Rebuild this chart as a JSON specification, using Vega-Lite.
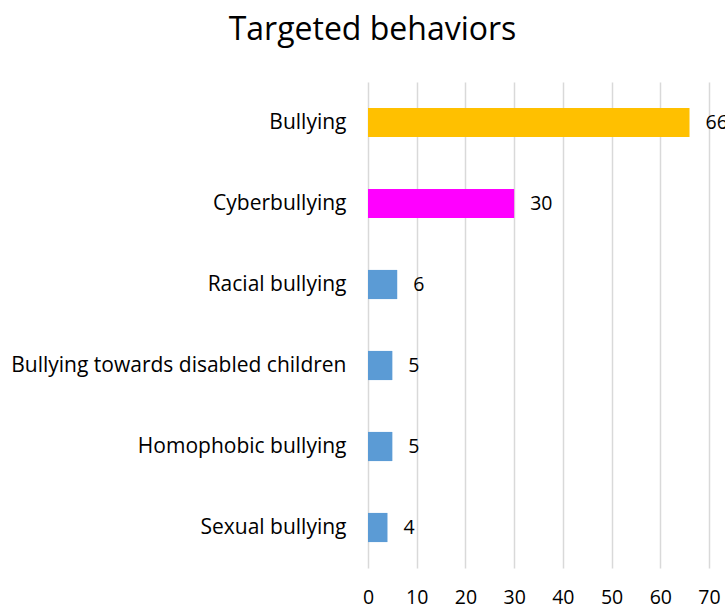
{
  "$schema": "https://vega.github.io/schema/vega-lite/v6.json",
  "autosize": "none",
  "width": 341,
  "height": 486,
  "padding": {"left": 368, "top": 82, "right": 16, "bottom": 41},
  "background": "white",
  "title": {
    "text": "Targeted behaviors",
    "font": "Open Sans",
    "fontSize": 32,
    "fontWeight": "normal",
    "color": "#000000",
    "anchor": "middle",
    "dx": -166,
    "offset": 35
  },
  "config": {"view": {"stroke": null}},
  "data": {
    "values": [
      {"behavior": "Bullying", "value": 66, "group": "a"},
      {"behavior": "Cyberbullying", "value": 30, "group": "b"},
      {"behavior": "Racial bullying", "value": 6, "group": "c"},
      {"behavior": "Bullying towards disabled children", "value": 5, "group": "c"},
      {"behavior": "Homophobic bullying", "value": 5, "group": "c"},
      {"behavior": "Sexual bullying", "value": 4, "group": "c"}
    ]
  },
  "encoding": {
    "y": {
      "field": "behavior",
      "type": "nominal",
      "sort": null,
      "scale": {"paddingInner": 0.64, "paddingOuter": 0.32},
      "axis": {
        "title": null,
        "domain": false,
        "ticks": false,
        "labelFont": "Open Sans",
        "labelFontSize": 21,
        "labelColor": "#000000",
        "labelPadding": 22,
        "labelLimit": 400
      }
    },
    "x": {
      "field": "value",
      "type": "quantitative",
      "scale": {"domain": [0, 70], "nice": false},
      "axis": {
        "title": null,
        "values": [0, 10, 20, 30, 40, 50, 60, 70],
        "domain": false,
        "ticks": false,
        "grid": true,
        "gridColor": "#d9d9d9",
        "gridWidth": 1.5,
        "labelFont": "Open Sans",
        "labelFontSize": 19.5,
        "labelColor": "#000000",
        "labelPadding": 20,
        "labelFlush": false,
        "labelOverlap": false
      }
    }
  },
  "layer": [
    {
      "mark": {"type": "bar"},
      "encoding": {
        "color": {
          "field": "group",
          "type": "nominal",
          "scale": {"domain": ["a", "b", "c"], "range": ["#FFC000", "#FF00FF", "#5B9BD5"]},
          "legend": null
        }
      }
    },
    {
      "mark": {"type": "text", "align": "left", "dx": 16, "font": "Open Sans", "fontSize": 19.5, "color": "#000000"},
      "encoding": {"text": {"field": "value", "type": "quantitative"}}
    }
  ]
}
